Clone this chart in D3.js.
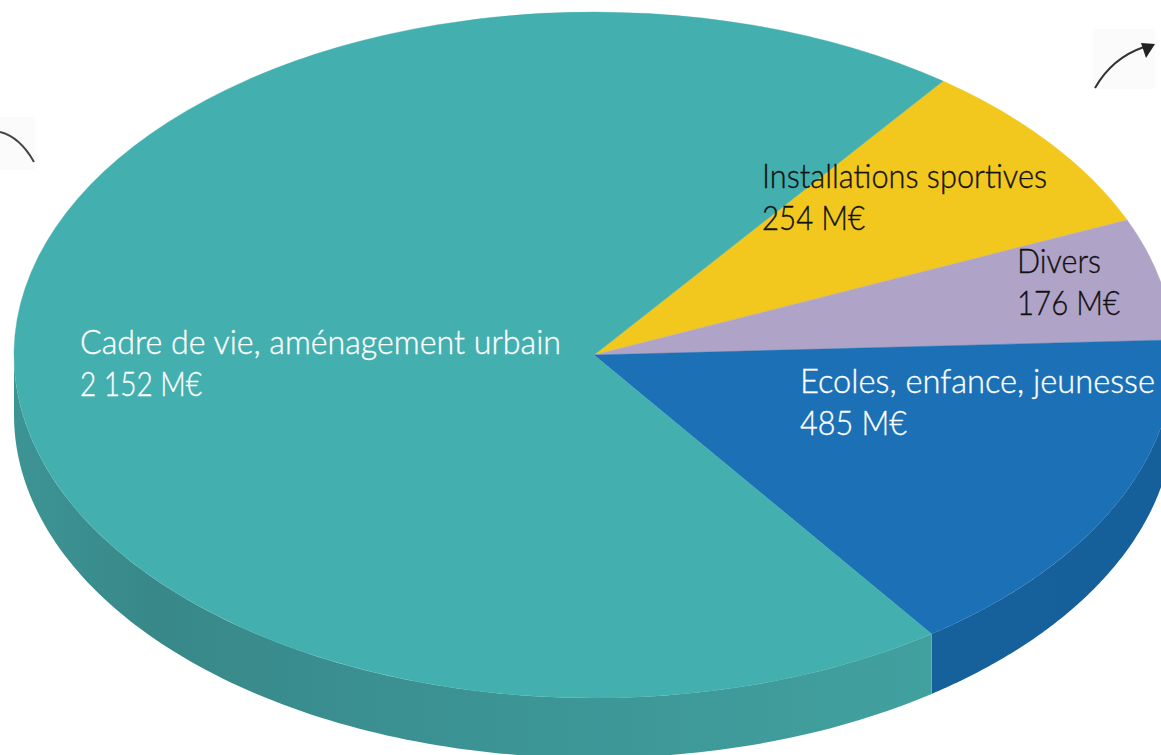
<!DOCTYPE html>
<html>
<head>
<meta charset="utf-8">
<script src="https://cdn.jsdelivr.net/npm/d3@7"></script>
<style>
body { margin: 0; background: #fff; }
svg { display: block; }
text { font-family: Lato, "Open Sans", sans-serif; font-weight: 300; font-size: 33px; stroke-width: .35; }
</style>
</head>
<body>
<div id="chart"></div>
<script>
// values in M€, clockwise from the yellow slice
const categories = ['Installations sportives', 'Divers', 'Ecoles, enfance, jeunesse', 'Cadre de vie, aménagement urbain'];
const values = [254, 176, 485, 2152];
const valueLabels = ['254 M€', '176 M€', '485 M€', '2 152 M€'];

const colors = ['#f2c81e', '#b0a3c8', '#1c70b5', '#44afaf'];
const textColors = ['#111', '#111', '#fff', '#fff'];

// left edge, baseline, name width, value width
const labelPos = [
	[762, 188, 285, 103],
	[1017, 273, 84, 103],
	[800, 393, 355, 107],
	[80, 354, 481, 122]
];

const width = 1161;
const height = 755;
const cx = 594;
const cy = 355;
const rx = 580;
const ry = 343;
const depth = 60;
const startAngle = 37 * Math.PI / 180;

let svg = d3.select('#chart').append('svg')
.attr('width', width)
.attr('height', height)

let defs = svg.append('defs')

const addGradient = (id, stops) => {
	let g = defs.append('linearGradient')
	.attr('id', id)
	.attr('gradientUnits', 'userSpaceOnUse')
	.attr('x1', cx - rx).attr('x2', cx + rx)
	.attr('y1', 0).attr('y2', 0)

	stops.forEach(s => g.append('stop').attr('offset', s[0]).attr('stop-color', s[1]))
}

addGradient('side-teal', [[0, '#3d9494'], [0.12, '#388889'], [0.4, '#3c9394'], [0.8, '#41a19f']])
addGradient('side-blue', [[0, '#17649f'], [1, '#15609a']])

// little arrows left over at the edges of the picture
let arrows = svg.append('g')

arrows.append('rect')
.attr('x', 0).attr('y', 117).attr('width', 35).attr('height', 53)
.attr('fill', '#fbfbfb')

arrows.append('path')
.attr('d', 'M0,132 Q20,137 34,162')
.attr('fill', 'none')
.attr('stroke', '#444')
.attr('stroke-width', 2)

arrows.append('rect')
.attr('x', 1093).attr('y', 29).attr('width', 62).attr('height', 60)
.attr('fill', '#fbfbfb')

arrows.append('path')
.attr('d', 'M1095,88 Q1112,58 1144,47')
.attr('fill', 'none')
.attr('stroke', '#333')
.attr('stroke-width', 2)

arrows.append('path')
.attr('d', 'M1141,43 L1155,44 L1146,58 Z')
.attr('fill', '#222')

let pie = d3.pie()
.sort(null)
.startAngle(startAngle)
.endAngle(startAngle + 2 * Math.PI)

let arcs = pie(values)

// ellipse point for a clock angle
const px = a => cx + rx * Math.sin(a);
const py = a => cy - ry * Math.cos(a);

// visible rim goes from 3 o'clock round to 9 o'clock
const sidePath = d => {
	let a0 = Math.max(d.startAngle, Math.PI / 2);
	let a1 = Math.min(d.endAngle, 3 * Math.PI / 2);
	if (a1 <= a0) return null;
	let angles = d3.range(0, 121).map(i => a0 + (a1 - a0) * i / 120);
	let top = angles.map(a => [px(a), py(a)]);
	let bottom = angles.slice().reverse().map(a => [px(a), py(a) + depth]);
	return d3.line()(top.concat(bottom)) + 'Z';
}

let sides = svg.append('g')

sides.selectAll('path')
.data(arcs)
.enter()
.append('path')
.attr('d', sidePath)
.attr('fill', (d, i) => i == 2 ? 'url(#side-blue)' : i == 3 ? 'url(#side-teal)' : colors[i])

let arc = d3.arc()
.innerRadius(0)
.outerRadius(rx)

let slices = svg.append('g')
.attr('transform', `translate(${cx},${cy}) scale(1,${ry / rx})`)

slices.selectAll('path')
.data(arcs)
.enter()
.append('path')
.attr('d', arc)
.attr('fill', (d, i) => colors[i])
.attr('stroke', (d, i) => colors[i])
.attr('stroke-width', .5)

let labels = svg.append('g')

categories.forEach((name, i) => {
	let p = labelPos[i];

	labels.append('text')
	.attr('x', p[0]).attr('y', p[1])
	.attr('textLength', p[2])
	.attr('lengthAdjust', 'spacingAndGlyphs')
	.attr('fill', textColors[i])
	.attr('stroke', textColors[i])
	.text(name)

	labels.append('text')
	.attr('x', p[0]).attr('y', p[1] + 42)
	.attr('textLength', p[3])
	.attr('lengthAdjust', 'spacingAndGlyphs')
	.attr('fill', textColors[i])
	.attr('stroke', textColors[i])
	.text(valueLabels[i])
})
</script>
</body>
</html>
